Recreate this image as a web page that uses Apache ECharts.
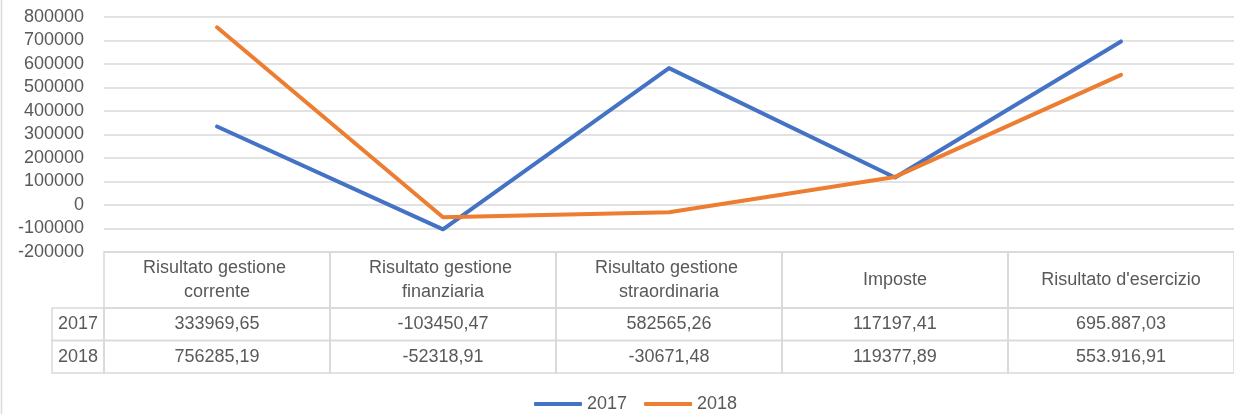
<!DOCTYPE html>
<html>
<head>
<meta charset="utf-8">
<script src="https://cdn.jsdelivr.net/npm/echarts@6/dist/echarts.min.js"></script>
<style>
  html, body { margin: 0; padding: 0; background: #fff; }
  #chart { width: 1234px; height: 414px; }
</style>
</head>
<body>
<div id="chart"></div>
<script>
// categories and values
const categories = [
  "Risultato gestione corrente",
  "Risultato gestione finanziaria",
  "Risultato gestione straordinaria",
  "Imposte",
  "Risultato d'esercizio",
];
const years = ["2017", "2018"];
const values2017 = [333969.65, -103450.47, 582565.26, 117197.41, 695887.03];
const values2018 = [756285.19, -52318.91, -30671.48, 119377.89, 553916.91];
// table text exactly as printed (source mixes formats)
const text2017 = ["333969,65", "-103450,47", "582565,26", "117197,41", "695.887,03"];
const text2018 = ["756285,19", "-52318,91", "-30671,48", "119377,89", "553.916,91"];
const yTicks = { min: -200000, max: 800000, interval: 100000 };

const FONT = "'Liberation Sans', Arial, sans-serif";
const TXT = "#595959";
const BORDER = "#d9d9d9";
const FS = 18;

let chart = echarts.init(document.getElementById("chart"));

let headerData = categories.map((c, i) => [i, 0]);
let headerText = categories.slice();
let rowData = [];
let rowText = [];
years.forEach((y, r) => {
  let t = r === 0 ? text2017 : text2018;
  categories.forEach((c, i) => {
    rowData.push([i, r]);
    rowText.push(t[i]);
  });
});
let rowHeadData = years.map((y, r) => [0, r]);

// a cell of the data table, positioned by the grid's own category axes
function makeCell(texts) {
  return function (params, api) {
    let p = api.coord([api.value(0), api.value(1)]);
    let s = api.size([1, 1]);
    return {
      type: "group",
      children: [
        {
          type: "rect",
          shape: { x: p[0] - s[0] / 2, y: p[1] - s[1] / 2, width: s[0], height: s[1] },
          style: { fill: null, stroke: BORDER, lineWidth: 1.5 },
        },
        {
          type: "text",
          x: p[0],
          y: p[1],
          style: {
            text: texts[params.dataIndex],
            width: 185,
            overflow: "break",
            align: "center",
            verticalAlign: "middle",
            fill: TXT,
            font: FS + "px " + FONT,
            lineHeight: 24,
          },
        },
      ],
    };
  };
}

// row headers sit left of the first column
function rowHeadItem(params, api) {
  let p = api.coord([0, api.value(1)]);
  let s = api.size([1, 1]);
  let w = 52;
  let x0 = p[0] - s[0] / 2 - w;
  return {
    type: "group",
    children: [
      {
        type: "rect",
        shape: { x: x0, y: p[1] - s[1] / 2, width: w, height: s[1] },
        style: { fill: null, stroke: BORDER, lineWidth: 1.5 },
      },
      {
        type: "text",
        x: x0 + w / 2,
        y: p[1],
        style: {
          text: years[params.dataIndex],
          align: "center",
          verticalAlign: "middle",
          fill: TXT,
          font: FS + "px " + FONT,
        },
      },
    ],
  };
}

const hiddenCat = (gi, data) => ({
  type: "category",
  gridIndex: gi,
  data: data,
  show: false,
});

let option = {
  animation: false,
  color: ["#4472C4", "#ED7D31"],
  textStyle: { fontFamily: FONT },
  grid: [
    { left: 104, right: -4, top: 17, height: 235 },
    { left: 104, right: -4, top: 252, height: 56 },
    { left: 104, right: -4, top: 308, height: 65 },
  ],
  xAxis: [
    {
      type: "category",
      data: categories,
      boundaryGap: true,
      axisLine: { show: false },
      axisTick: { show: false },
      axisLabel: { show: false },
    },
    hiddenCat(1, categories),
    hiddenCat(2, categories),
  ],
  yAxis: [
    {
      type: "value",
      min: yTicks.min,
      max: yTicks.max,
      interval: yTicks.interval,
      axisLine: { show: false },
      axisTick: { show: false },
      axisLabel: {
        color: TXT,
        fontSize: FS,
        margin: 20,
        fontFamily: FONT,
        formatter: (v) => String(v),
      },
      splitLine: { lineStyle: { color: BORDER, width: 1.5 } },
    },
    hiddenCat(1, ["h"]),
    Object.assign(hiddenCat(2, years), { inverse: true }),
  ],
  legend: {
    top: 390,
    left: 529,
    itemWidth: 48,
    itemHeight: 4,
    itemGap: 17,
    icon: "roundRect",
    textStyle: { color: TXT, fontSize: FS, fontFamily: FONT },
    data: years,
  },
  graphic: [
    {
      type: "line",
      shape: { x1: 1.5, y1: 0, x2: 1.5, y2: 414 },
      style: { stroke: BORDER, lineWidth: 1.5 },
    },
  ],
  series: [
    {
      name: "2017",
      type: "line",
      data: values2017,
      showSymbol: false,
      symbol: "none",
      lineStyle: { width: 4, cap: "round", join: "round" },
    },
    {
      name: "2018",
      type: "line",
      data: values2018,
      showSymbol: false,
      symbol: "none",
      lineStyle: { width: 4, cap: "round", join: "round" },
    },
    {
      type: "custom",
      xAxisIndex: 1,
      yAxisIndex: 1,
      clip: false,
      silent: true,
      renderItem: makeCell(headerText),
      data: headerData,
    },
    {
      type: "custom",
      xAxisIndex: 2,
      yAxisIndex: 2,
      clip: false,
      silent: true,
      renderItem: makeCell(rowText),
      data: rowData,
    },
    {
      type: "custom",
      xAxisIndex: 2,
      yAxisIndex: 2,
      clip: false,
      silent: true,
      renderItem: rowHeadItem,
      data: rowHeadData,
    },
  ],
};

chart.setOption(option);
</script>
</body>
</html>
